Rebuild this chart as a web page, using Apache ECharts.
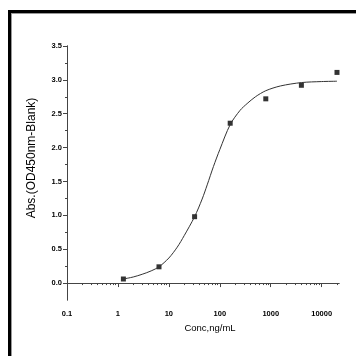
<!DOCTYPE html>
<html>
<head>
<meta charset="utf-8">
<script src="https://cdn.jsdelivr.net/npm/echarts@6/dist/echarts.min.js"></script>
<style>
html, body { margin: 0; padding: 0; background: #fff; }
#chart { width: 356px; height: 356px; }
</style>
</head>
<body>
<div id="chart"></div>
<script>
// measured points (5-fold dilution)
var conc = [1.28, 6.4, 32, 160, 800, 4000, 20000]
var absorb = [0.06, 0.24, 0.98, 2.36, 2.72, 2.92, 3.11]

// fitted curve
var fitX = [1.28, 2, 3, 4.5, 6.4, 10, 14.6, 20, 32, 45, 56.6, 75, 100, 160, 250, 344, 500, 800, 1550, 4000, 10000, 20000]
var fitY = [0.06, 0.09, 0.13, 0.18, 0.24, 0.37, 0.53, 0.70, 0.98, 1.24, 1.45, 1.72, 1.97, 2.34, 2.55, 2.65, 2.75, 2.84, 2.91, 2.96, 2.975, 2.98]

// axes
var xMajor = [0.1, 1, 10, 100, 1000, 10000]
var xTickLabels = ['0.1', '1', '10', '100', '1000', '10000']
var xMinor = []
for (var d = 0.1; d < 20000; d *= 10) {
  for (var k = 2; k <= 9; k++) {
    var v = +(d * k).toPrecision(3)
    if (v <= 21900) xMinor.push(v)
  }
}
var yMajor = [0, 0.5, 1, 1.5, 2, 2.5, 3, 3.5]
var yMinor = [0.25, 0.75, 1.25, 1.75, 2.25, 2.75, 3.25]

var axisColor = '#444'
var labelFont = { fontFamily: 'Liberation Sans', fontWeight: 'bold', fontSize: 7.5, color: '#000' }

function xAxisOf(ticks, len, showLabel) {
  return {
    type: 'log', logBase: 10, min: 0.1, max: 21900,
    position: 'bottom', offset: 0,
    axisLine: { show: true, lineStyle: { color: axisColor, width: 1 } },
    axisTick: { show: true, length: len, inside: false, customValues: ticks, lineStyle: { color: axisColor } },
    axisLabel: Object.assign({
      show: showLabel, margin: 10, customValues: xMajor,
      formatter: function (v) { return xTickLabels[Math.round(Math.log10(v)) + 1] }
    }, labelFont),
    splitLine: { show: false }
  }
}

function yAxisOf(ticks, len, showLabel) {
  return {
    type: 'value', min: -0.25, max: 3.5,
    position: 'left', offset: 0,
    axisLine: { show: true, lineStyle: { color: axisColor, width: 1 } },
    axisTick: { show: true, length: len, inside: false, customValues: ticks, lineStyle: { color: axisColor } },
    axisLabel: Object.assign({
      show: showLabel, margin: 5, customValues: yMajor,
      formatter: function (v) { return v.toFixed(1) }
    }, labelFont),
    splitLine: { show: false }
  }
}

var xMain = xAxisOf(xMajor, 4, true)
xMain.name = 'Conc,ng/mL'
xMain.nameLocation = 'middle'
xMain.nameGap = 22
xMain.nameTextStyle = { fontFamily: 'Liberation Sans', fontSize: 9.5, color: '#000', padding: [0, 0, 0, 14] }

var yMain = yAxisOf(yMajor, 4, true)
yMain.name = 'Abs.(OD450nm-Blank)'
yMain.nameLocation = 'middle'
yMain.nameGap = 29
yMain.nameTextStyle = { fontFamily: 'Liberation Sans', fontSize: 12, color: '#000', padding: [0, 0, 0, 30] }

var chart = echarts.init(document.getElementById('chart'))
chart.setOption({
  animation: false,
  backgroundColor: '#fff',
  grid: { left: 67, right: 17, top: 46, bottom: 56 },
  xAxis: [xMain, xAxisOf(xMinor, 2, false)],
  yAxis: [yMain, yAxisOf(yMinor, 2, false)],
  graphic: [
    // frame of the original figure (top and left edges)
    { type: 'rect', shape: { x: 8, y: 10, width: 348, height: 3 }, style: { fill: '#000' } },
    { type: 'rect', shape: { x: 11, y: 13, width: 345, height: 1 }, style: { fill: '#999' } },
    { type: 'rect', shape: { x: 8, y: 10, width: 3, height: 346 }, style: { fill: '#000' } },
    { type: 'rect', shape: { x: 11, y: 13, width: 1, height: 343 }, style: { fill: '#999' } }
  ],
  series: [
    {
      type: 'line',
      data: fitX.map(function (x, i) { return [x, fitY[i]] }),
      smooth: 0.3,
      showSymbol: false,
      lineStyle: { color: '#333', width: 1 }
    },
    {
      type: 'scatter',
      data: conc.map(function (x, i) { return [x, absorb[i]] }),
      symbol: 'rect',
      symbolSize: 5,
      itemStyle: { color: '#000' }
    }
  ]
})
</script>
</body>
</html>
